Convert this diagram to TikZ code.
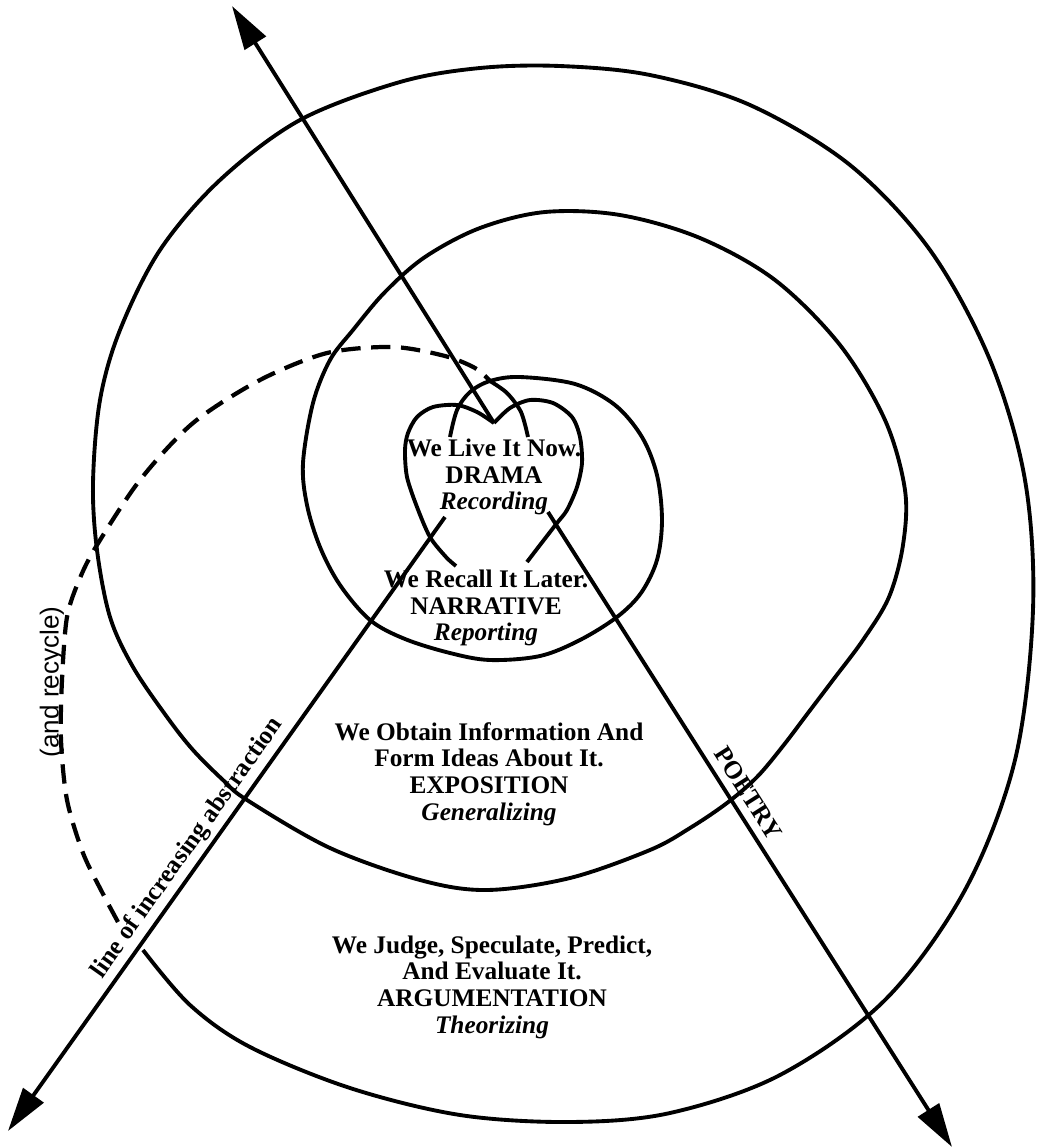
\documentclass[tikz,border=0pt]{standalone}
\usepackage{fontspec}
\setmainfont{Liberation Serif}
\newfontfamily\recyclefont{Liberation Sans}
\usetikzlibrary{arrows.meta}

\begin{document}
\begin{tikzpicture}[x=0.01cm, y=-0.01cm,
    every node/.style={font=\fontsize{7.2}{7.6}\selectfont\bfseries, align=center, inner sep=1pt},
    ring/.style={line width=1.1pt, line join=round},
    ray/.style={line width=1.1pt, -{Triangle[length=12.5pt,width=7pt]}},
    backloop/.style={line width=1.2pt, dash pattern=on 5.5pt off 3pt}]
  \useasboundingbox (0,0) rectangle (1041,1147);

  % the spiral, from the heart outwards
  \draw[ring] plot[smooth, tension=0.55] coordinates {(450,437) (457,410) (470,392) (490,381) (520,377) (575,384) (615,405) (642,437) (657,475) (662,520) (657,560) (641,593) (617,617) (580,640) (540,656) (490,660) (450,653) (405,639) (370,620) (340,585) (320,547) (307,505) (303,463) (313,403) (330,360) (353,330) (385,292) (425,257) (480,228) (545,212) (620,215) (700,238) (775,280) (840,345) (885,420) (905,490) (903,545) (889,597) (863,640) (833,680) (808,713) (783,746) (757,777) (727,803) (690,828) (650,850) (570,878) (487,890) (420,880) (330,848) (247,800) (223,780) (193,750) (167,717) (133,667) (110,617) (97,550) (93,483) (100,400) (120,330) (160,250) (220,180) (300,120) (400,82) (480,68) (560,66) (650,75) (750,105) (850,165) (930,250) (990,360) (1025,480) (1033,610) (1015,760) (965,890) (885,1000) (780,1075) (670,1113) (570,1122) (460,1115) (350,1088) (250,1047) (190,1005) (143,950)};

  % heart
  \coordinate (heartv) at (494,423);
  \draw[ring] plot[smooth] coordinates {(494,423) (477,412) (457,405) (433,407) (417,417) (408,433) (405,450) (407,477) (417,507) (430,537) (446,557) (456,566)};
  \draw[ring] plot[smooth] coordinates {(494,423) (510,408) (530,400) (553,403) (572,417) (580,437) (582,463) (577,487) (567,510) (557,523) (540,545) (527,562)};

  % recycle loop
  \draw[backloop] plot[smooth] coordinates {(118,922) (102,892) (83,853) (67,800) (61,740) (62,680) (67,617) (80,578) (97,545) (140,480) (193,423) (260,380) (327,353) (393,347) (445,356) (475,368) (490,381)};
  \draw[ring] plot[smooth] coordinates {(490,381) (507,393) (521,412) (528,437)};

  % rays
  \coordinate (toptip) at (232,6);
  \coordinate (lefttip) at (8,1131);
  \coordinate (leftend) at (445,517);
  \coordinate (rightend) at (548,512);
  \coordinate (righttip) at (952,1147);
  \draw[ray] (heartv) -- (toptip);
  \draw[ray] (leftend) -- (lefttip);
  \draw[ray] (rightend) -- (righttip);
  \path (lefttip) -- (leftend) node[pos=0.444, rotate=54.6, anchor=south, inner sep=1.5pt] (abstraction) {line of increasing abstraction};
  \path (rightend) -- (righttip) node[pos=0.458, rotate=-57.5, anchor=south, inner sep=2.5pt] (poetry) {POETRY};

  % stages
  \node (drama) at (494,477) {We Live It Now.\\DRAMA\\\itshape Recording};
  \node (narrative) at (486,608) {We Recall It Later.\\NARRATIVE\\\itshape Reporting};
  \node (exposition) at (489,774) {We Obtain Information And\\Form Ideas About It.\\EXPOSITION\\\itshape Generalizing};
  \node (argumentation) at (492,987) {We Judge, Speculate, Predict,\\And Evaluate It.\\ARGUMENTATION\\\itshape Theorizing};
  \node[rotate=90, font=\recyclefont\fontsize{7.4}{8}\selectfont] (recycle) at (52,682) {(and recycle)};
\end{tikzpicture}
\end{document}
